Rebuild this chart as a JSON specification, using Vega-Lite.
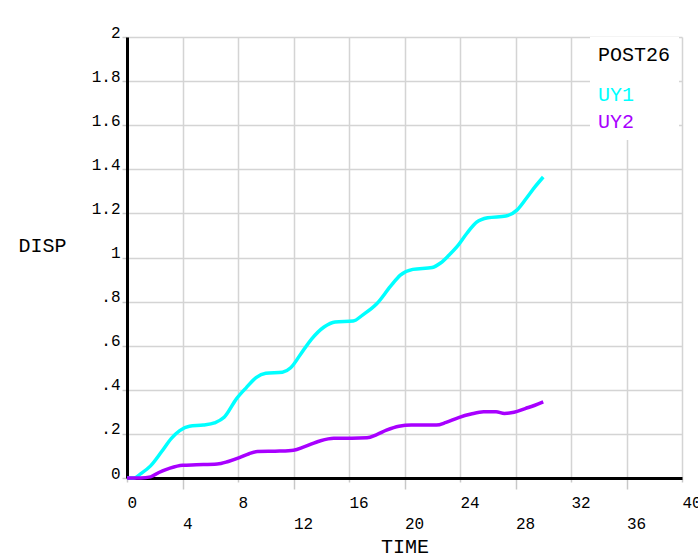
{
  "$schema": "https://vega.github.io/schema/vega-lite/v6.json",
  "width": 555,
  "height": 441,
  "autosize": {"type": "none"},
  "padding": {"left": 127, "top": 37, "right": 16, "bottom": 76},
  "background": "white",
  "config": {
    "view": {"stroke": null},
    "font": "Liberation Mono"
  },
  "data": {
    "values": [
      {"series": "UY1", "t": 0, "v": 0},
      {"series": "UY1", "t": 0.5, "v": 0},
      {"series": "UY1", "t": 1.0, "v": 0.02},
      {"series": "UY1", "t": 1.7, "v": 0.055},
      {"series": "UY1", "t": 2.5, "v": 0.12},
      {"series": "UY1", "t": 3.2, "v": 0.18},
      {"series": "UY1", "t": 3.8, "v": 0.215},
      {"series": "UY1", "t": 4.5, "v": 0.235},
      {"series": "UY1", "t": 5.5, "v": 0.24},
      {"series": "UY1", "t": 6.3, "v": 0.25},
      {"series": "UY1", "t": 7.0, "v": 0.275},
      {"series": "UY1", "t": 7.9, "v": 0.36},
      {"series": "UY1", "t": 8.6, "v": 0.41},
      {"series": "UY1", "t": 9.3, "v": 0.455},
      {"series": "UY1", "t": 10.0, "v": 0.475},
      {"series": "UY1", "t": 11.2, "v": 0.48},
      {"series": "UY1", "t": 11.8, "v": 0.5},
      {"series": "UY1", "t": 12.5, "v": 0.56},
      {"series": "UY1", "t": 13.3, "v": 0.63},
      {"series": "UY1", "t": 14.2, "v": 0.685},
      {"series": "UY1", "t": 15.0, "v": 0.708},
      {"series": "UY1", "t": 16.3, "v": 0.712},
      {"series": "UY1", "t": 17.0, "v": 0.74},
      {"series": "UY1", "t": 18.0, "v": 0.79},
      {"series": "UY1", "t": 19.0, "v": 0.87},
      {"series": "UY1", "t": 19.7, "v": 0.92},
      {"series": "UY1", "t": 20.6, "v": 0.946},
      {"series": "UY1", "t": 22.0, "v": 0.955},
      {"series": "UY1", "t": 22.6, "v": 0.975},
      {"series": "UY1", "t": 23.2, "v": 1.01},
      {"series": "UY1", "t": 23.8, "v": 1.05},
      {"series": "UY1", "t": 24.5, "v": 1.11},
      {"series": "UY1", "t": 25.2, "v": 1.16},
      {"series": "UY1", "t": 26.0, "v": 1.18},
      {"series": "UY1", "t": 27.3, "v": 1.188},
      {"series": "UY1", "t": 28.1, "v": 1.215},
      {"series": "UY1", "t": 28.8, "v": 1.27},
      {"series": "UY1", "t": 29.4, "v": 1.32},
      {"series": "UY1", "t": 30.0, "v": 1.365},
      {"series": "UY2", "t": 0, "v": 0},
      {"series": "UY2", "t": 1.0, "v": 0},
      {"series": "UY2", "t": 1.7, "v": 0.005},
      {"series": "UY2", "t": 2.3, "v": 0.025},
      {"series": "UY2", "t": 3.1, "v": 0.045},
      {"series": "UY2", "t": 4.0, "v": 0.058},
      {"series": "UY2", "t": 5.0, "v": 0.06},
      {"series": "UY2", "t": 6.5, "v": 0.063},
      {"series": "UY2", "t": 7.3, "v": 0.075},
      {"series": "UY2", "t": 8.1, "v": 0.092},
      {"series": "UY2", "t": 8.8, "v": 0.11},
      {"series": "UY2", "t": 9.4, "v": 0.12},
      {"series": "UY2", "t": 11.0, "v": 0.122},
      {"series": "UY2", "t": 12.0, "v": 0.126},
      {"series": "UY2", "t": 12.8, "v": 0.142},
      {"series": "UY2", "t": 13.9, "v": 0.168},
      {"series": "UY2", "t": 14.9, "v": 0.18},
      {"series": "UY2", "t": 16.2, "v": 0.18},
      {"series": "UY2", "t": 17.3, "v": 0.182},
      {"series": "UY2", "t": 18.0, "v": 0.197},
      {"series": "UY2", "t": 18.7, "v": 0.217},
      {"series": "UY2", "t": 19.6, "v": 0.235},
      {"series": "UY2", "t": 20.5, "v": 0.24},
      {"series": "UY2", "t": 22.3, "v": 0.24},
      {"series": "UY2", "t": 23.0, "v": 0.252},
      {"series": "UY2", "t": 23.9, "v": 0.274},
      {"series": "UY2", "t": 24.8, "v": 0.29},
      {"series": "UY2", "t": 25.7, "v": 0.3},
      {"series": "UY2", "t": 26.6, "v": 0.3},
      {"series": "UY2", "t": 27.2, "v": 0.293},
      {"series": "UY2", "t": 27.9, "v": 0.298},
      {"series": "UY2", "t": 28.7, "v": 0.315},
      {"series": "UY2", "t": 29.4, "v": 0.33},
      {"series": "UY2", "t": 30.0, "v": 0.345}
    ]
  },
  "mark": {"type": "line", "strokeWidth": 3.5, "interpolate": "monotone"},
  "encoding": {
    "x": {
      "field": "t",
      "type": "quantitative",
      "scale": {"domain": [0, 40], "nice": false},
      "axis": {
        "title": "TIME",
        "titleFont": "Liberation Mono",
        "titleFontSize": 20,
        "titleFontWeight": "normal",
        "titleColor": "#000000",
        "titleY": 74,
        "titleBaseline": "alphabetic",
        "values": [0, 4, 8, 12, 16, 20, 24, 28, 32, 36, 40],
        "domainColor": "#000000",
        "domainWidth": 3,
        "grid": true,
        "gridColor": "#d4d4d4",
        "gridWidth": 1.5,
        "tickColor": "#c8c8c8",
        "tickWidth": 1.5,
        "tickSize": {"condition": {"test": "datum.value % 8 == 4", "value": 11}, "value": 4},
        "labelPadding": {"condition": {"test": "datum.value % 8 == 4", "value": 26}, "value": 12},
        "labelAlign": "left",
        "labelBaseline": "top",
        "labelFont": "Liberation Mono",
        "labelFontSize": 16,
        "labelColor": "#000000",
        "labelFlush": false,
        "labelOverlap": false
      }
    },
    "y": {
      "field": "v",
      "type": "quantitative",
      "scale": {"domain": [0, 2], "nice": false},
      "axis": {
        "title": "DISP",
        "titleFont": "Liberation Mono",
        "titleFontSize": 20,
        "titleFontWeight": "normal",
        "titleColor": "#000000",
        "titleAngle": 0,
        "titleAlign": "left",
        "titleBaseline": "middle",
        "titleX": -109,
        "titleY": 208,
        "values": [0, 0.2, 0.4, 0.6, 0.8, 1, 1.2, 1.4, 1.6, 1.8, 2],
        "labelExpr": "datum.value > 0 && datum.value < 1 ? slice(format(datum.value, '.1f'), 1) : format(datum.value, '.1~f')",
        "domainColor": "#000000",
        "domainWidth": 3,
        "grid": true,
        "gridColor": "#d4d4d4",
        "gridWidth": 1.5,
        "tickColor": "#c8c8c8",
        "tickWidth": 1.5,
        "tickSize": 5,
        "labelPadding": 2,
        "labelAlign": "right",
        "labelBaseline": "alphabetic",
        "labelFont": "Liberation Mono",
        "labelFontSize": 16,
        "labelColor": "#000000",
        "labelFlush": false,
        "labelOverlap": false
      }
    },
    "color": {
      "field": "series",
      "type": "nominal",
      "scale": {"domain": ["UY1", "UY2"], "range": ["#00ffff", "#a800ff"]},
      "legend": {
        "title": "POST26",
        "orient": "none",
        "legendX": 463,
        "legendY": 0,
        "padding": 8,
        "fillColor": "white",
        "strokeColor": null,
        "titleFont": "Liberation Mono",
        "titleFontSize": 20,
        "titleFontWeight": "normal",
        "titleColor": "#000000",
        "titlePadding": 20,
        "labelFont": "Liberation Mono",
        "labelFontSize": 20,
        "labelOffset": -20,
        "symbolType": "circle",
        "symbolSize": 0,
        "symbolOpacity": 0,
        "symbolStrokeWidth": 0,
        "rowPadding": 7,
        "encode": {
          "labels": {
            "update": {
              "fill": {"signal": "datum.value === 'UY1' ? '#00ffff' : '#a800ff'"}
            }
          }
        }
      }
    }
  }
}
